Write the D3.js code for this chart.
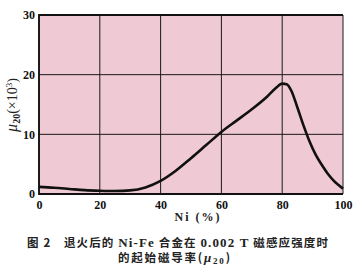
<!DOCTYPE html>
<html>
<head>
<meta charset="utf-8">
<script src="https://cdn.jsdelivr.net/npm/d3@7"></script>
<style>
  body { margin: 0; background: #fff; }
  .tick text { font-family: "Liberation Serif", serif; font-weight: bold; font-size: 12px; fill: #111; }
</style>
</head>
<body>
<div id="chart"></div>
<script>
// Ni content (%) and initial permeability mu20 (x10^3)
var niPct = [0, 5, 10, 15, 20, 25, 30, 35, 40, 45, 50, 55, 60, 65, 70, 75, 78, 80, 81.5, 83, 85, 87, 89, 91, 93, 95, 97, 100];
var mu20 = [1.2, 1.05, 0.85, 0.65, 0.55, 0.5, 0.6, 1.1, 2.2, 3.9, 6.0, 8.2, 10.4, 12.3, 14.2, 16.3, 17.8, 18.5, 18.4, 17.3, 14.5, 11.5, 8.8, 6.6, 4.9, 3.4, 2.2, 0.9];
var xTicks = [0, 20, 40, 60, 80, 100];
var yTicks = [0, 10, 20, 30];

var svgWidth = 362;
var svgHeight = 277;
var margin = { top: 15, right: 19, bottom: 83, left: 39 };
var width = svgWidth - margin.left - margin.right;
var height = svgHeight - margin.top - margin.bottom;

var svg = d3.select("#chart")
    .append("svg")
    .attr("width", svgWidth)
    .attr("height", svgHeight);

var chartGroup = svg.append("g")
    .attr("transform", `translate(${margin.left}, ${margin.top})`);

var x = d3.scaleLinear().domain([0, 100]).range([0, width]);
var y = d3.scaleLinear().domain([0, 30]).range([height, 0]);

// pink plot area
chartGroup.append("rect")
    .attr("width", width)
    .attr("height", height)
    .attr("fill", "#efc9d3");

// grid lines
chartGroup.selectAll(".vgrid")
    .data(xTicks)
    .enter()
    .append("line")
    .attr("x1", d => x(d)).attr("x2", d => x(d))
    .attr("y1", 0).attr("y2", height)
    .attr("stroke", "#1a1a1a")
    .attr("stroke-width", 1);

chartGroup.selectAll(".hgrid")
    .data(yTicks)
    .enter()
    .append("line")
    .attr("x1", 0).attr("x2", width)
    .attr("y1", d => y(d)).attr("y2", d => y(d))
    .attr("stroke", "#1a1a1a")
    .attr("stroke-width", 1);

// heavier frame on left, top, bottom
chartGroup.append("path")
    .attr("d", `M${width},0 H0 V${height} H${width}`)
    .attr("fill", "none")
    .attr("stroke", "#111")
    .attr("stroke-width", 1.8);

// axes (labels only)
var bottomAxis = d3.axisBottom(x).tickValues(xTicks).tickSize(0).tickPadding(6);
var leftAxis = d3.axisLeft(y).tickValues(yTicks).tickSize(0).tickPadding(4);

chartGroup.append("g")
    .attr("transform", `translate(0, ${height})`)
    .call(bottomAxis)
    .call(g => g.select(".domain").remove());

chartGroup.append("g")
    .call(leftAxis)
    .call(g => g.select(".domain").remove());

// curve
var line = d3.line()
    .x((d, i) => x(niPct[i]))
    .y(d => y(d))
    .curve(d3.curveMonotoneX);

chartGroup.append("path")
    .datum(mu20)
    .attr("d", line)
    .attr("fill", "none")
    .attr("stroke", "#111")
    .attr("stroke-width", 2.6)
    .attr("stroke-linejoin", "round");

// y axis title
var yTitle = svg.append("text")
    .attr("transform", "translate(17, 105) rotate(-90)")
    .attr("text-anchor", "middle")
    .attr("font-family", "Liberation Serif, serif")
    .attr("font-size", 14)
    .attr("fill", "#222");
yTitle.append("tspan").attr("font-style", "italic").attr("font-size", 16).text("μ");
yTitle.append("tspan").attr("font-size", 10).attr("dy", 3).attr("font-weight", "bold").text("20");
yTitle.append("tspan").attr("dy", -3).text("(×10");
yTitle.append("tspan").attr("font-size", 9).attr("dy", -5).text("3");
yTitle.append("tspan").attr("dy", 5).text(")");

// x axis title
svg.append("text")
    .attr("x", margin.left + width / 2 + 7)
    .attr("y", 221)
    .attr("text-anchor", "middle")
    .attr("font-family", "Liberation Serif, serif")
    .attr("font-weight", "bold")
    .attr("font-size", 12)
    .attr("letter-spacing", 2)
    .attr("fill", "#222")
    .text("Ni (%)");

// caption
var cap1 = svg.append("text")
    .attr("x", 27)
    .attr("y", 247)
    .attr("textLength", 301)
    .attr("lengthAdjust", "spacing")
    .attr("font-family", "Noto Sans CJK SC, sans-serif")
    .attr("font-weight", "bold")
    .attr("font-size", 11.5)
    .attr("fill", "#222");
cap1.append("tspan").text("图 2　退火后的 ");
cap1.append("tspan").attr("font-family", "Liberation Serif, serif").attr("font-size", 13).text("Ni-Fe");
cap1.append("tspan").text(" 合金在 ");
cap1.append("tspan").attr("font-family", "Liberation Serif, serif").attr("font-size", 13).text("0.002 T");
cap1.append("tspan").text(" 磁感应强度时");

var cap2 = svg.append("text")
    .attr("x", 118)
    .attr("y", 262)
    .attr("textLength", 112)
    .attr("lengthAdjust", "spacing")
    .attr("font-family", "Noto Sans CJK SC, sans-serif")
    .attr("font-weight", "bold")
    .attr("font-size", 11.5)
    .attr("fill", "#222");
cap2.append("tspan").text("的起始磁导率(");
cap2.append("tspan").attr("font-family", "Liberation Serif, serif").attr("font-style", "italic").attr("font-size", 13).text("μ");
cap2.append("tspan").attr("font-family", "Liberation Serif, serif").attr("font-size", 9).attr("dy", 2).text("20");
cap2.append("tspan").attr("dy", -2).text(")");
</script>
</body>
</html>
